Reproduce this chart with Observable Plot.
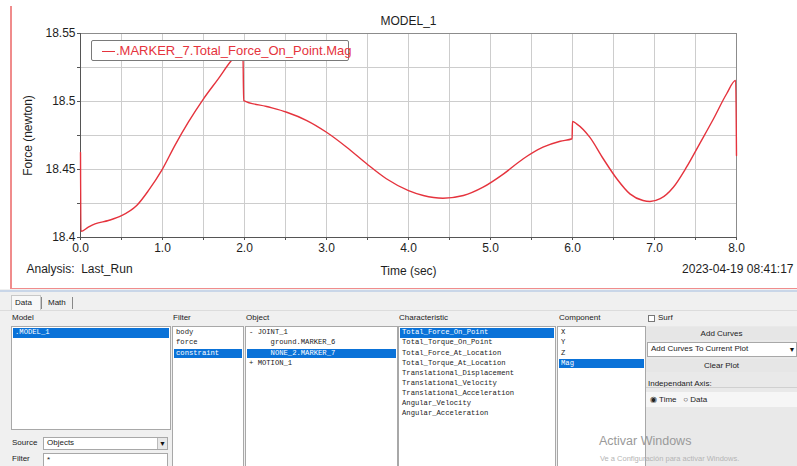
<!DOCTYPE html>
<html><head><meta charset="utf-8">
<script src="https://cdn.jsdelivr.net/npm/d3@7"></script>
<script src="https://cdn.jsdelivr.net/npm/@observablehq/plot@0.6"></script>
<style>
html,body{margin:0;padding:0;}
body{width:797px;height:466px;overflow:hidden;position:relative;background:#fff;font-family:"Liberation Sans",Arial,sans-serif;}
.abs{position:absolute;}
.layer{position:absolute;left:0;top:0;pointer-events:none;}
.lab{position:absolute;font:8px "Liberation Sans",Arial,sans-serif;color:#222;white-space:pre;line-height:10px;}
.box{position:absolute;background:#fff;border:1px solid #a8a8a8;box-sizing:border-box;overflow:hidden;}
.item{position:absolute;left:1px;right:1px;height:9.6px;font:7.2px "Liberation Mono","DejaVu Sans Mono",monospace;line-height:9.6px;color:#222;white-space:pre;padding-left:2px;}
.sel{background:#0a72d8;color:#fff;}
.btn{position:absolute;background:#e6e6e6;font:8px "Liberation Sans",Arial,sans-serif;color:#222;text-align:center;box-sizing:border-box;}
</style></head><body>
<div id="layerA" class="layer"></div>
<div id="layerB" class="layer"></div>
<div id="layerD" class="layer"></div>
<div id="layerC" class="layer"></div>
<div class="abs" style="left:10px;top:6px;width:1.5px;height:283px;background:#f08c8c;"></div>
<div class="abs" style="left:10px;top:287.5px;width:787px;height:1.5px;background:#f08c8c;"></div>
<div id="legend" class="abs" style="left:91px;top:40px;width:258px;height:21px;border:1px solid #7a7a7a;border-radius:2px;background:#fff;box-sizing:border-box;">
  <div class="abs" style="left:10px;top:9.5px;width:13px;height:1.5px;background:#e5333d;"></div>
  <div class="abs" style="left:24px;top:2px;font:13px 'Liberation Sans',Arial,sans-serif;color:#e5333d;white-space:nowrap;line-height:15px;">.MARKER_7.Total_Force_On_Point.Mag</div>
</div>
<div id="panel" class="abs" style="left:0;top:289px;width:797px;height:177px;background:#f0f0f0;"></div>
<script>
// ---- chart data ----
const times  = [0, 0.005, 0.095, 0.177, 0.34, 0.5, 0.685, 0.83, 0.99, 1.15, 1.315, 1.5, 1.68, 1.84, 1.92, 1.98, 1.99,
                2.27, 2.515, 2.76, 3.0, 3.246, 3.49, 3.73, 4.0, 4.18, 4.42, 4.67, 4.91, 5.16, 5.40, 5.64, 5.85, 5.995,
                6.0, 6.05, 6.21, 6.375, 6.54, 6.70, 6.86, 6.945, 7.07, 7.23, 7.39, 7.55, 7.72, 7.88, 7.99, 8.0];
const forces = [18.4625, 18.4045, 18.4076, 18.4100, 18.4125, 18.4160, 18.4235, 18.4346, 18.4493, 18.4676, 18.4848, 18.5020, 18.5167, 18.5301, 18.5355, 18.5392, 18.5007,
                18.4963, 18.4921, 18.4860, 18.4774, 18.4664, 18.4542, 18.4432, 18.4345, 18.4309, 18.4289, 18.4309, 18.4370, 18.4468, 18.4579, 18.4664, 18.4708, 18.4726,
                18.4853, 18.4836, 18.4738, 18.4579, 18.4432, 18.4321, 18.4272, 18.4265, 18.4285, 18.4370, 18.4517, 18.4689, 18.4873, 18.5057, 18.5155, 18.4603];
const xMajorTicks = [0, 1, 2, 3, 4, 5, 6, 7, 8];
const xMinorTicks = [0, 0.5, 1, 1.5, 2, 2.5, 3, 3.5, 4, 4.5, 5, 5.5, 6, 6.5, 7, 7.5, 8];
const yMajorTicks = [18.4, 18.45, 18.5, 18.55];
const yMinorTicks = [18.4, 18.425, 18.45, 18.475, 18.5, 18.525, 18.55];
const xDomain = [0, 8];
const yDomain = [18.4, 18.55];
const titleText = ["MODEL_1"];
const analysisText = ["Analysis:\u00a0 Last_Run"];
const dateText = ["2023-04-19 08:41:17"];

const rows = times.map((t, i) => ({t, f: forces[i]}));
const grid = "#cdcdcd";

// shared frame geometry for all stacked layers
const base = {
  width: 797, height: 288,
  marginLeft: 80, marginRight: 61, marginTop: 33, marginBottom: 51,
  axis: null,
  style: {fontFamily: "'Liberation Sans', Arial, sans-serif", fontSize: "12px", color: "#1e1e1e", background: "transparent", overflow: "visible"},
  x: {domain: xDomain, axis: null},
  y: {domain: yDomain, axis: null}
};

// layer A: tick labels, axis titles, captions
document.getElementById("layerA").append(Plot.plot({...base, marks: [
  Plot.axisX(xMajorTicks, {tickSize: 3, tickPadding: 3, tickFormat: d3.format(".1f"),
    label: "Time (sec)", labelAnchor: "center", labelOffset: 37, labelArrow: "none"}),
  Plot.axisY(yMajorTicks, {tickSize: 3, tickPadding: 2, tickFormat: d => String(+d.toFixed(3)),
    label: "Force (newton)", labelAnchor: "center", labelOffset: 57, labelArrow: "none"}),
  Plot.text(titleText, {text: d => d, frameAnchor: "top", dy: -17}),
  Plot.text(analysisText, {text: d => d, frameAnchor: "bottom-left", dx: -54, dy: 35, textAnchor: "start"}),
  Plot.text(dateText, {text: d => d, frameAnchor: "bottom-right", dx: 57, dy: 35, textAnchor: "end"})
]}));

// layer B: grid, frame, x ticks
document.getElementById("layerB").append(Plot.plot({...base, marks: [
  Plot.ruleX(xMinorTicks, {x: d => d, stroke: grid, strokeWidth: 1}),
  Plot.ruleY(yMinorTicks, {y: d => d, stroke: grid, strokeWidth: 1}),
  Plot.frame({stroke: "#8c8c8c"}),
  Plot.axisX(xMinorTicks, {tickSize: 3, tickFormat: () => "", label: null, stroke: "#555"})
]}));

// layer D: y ticks and dark axis lines
document.getElementById("layerD").append(Plot.plot({...base, marks: [
  Plot.axisY(yMinorTicks, {tickSize: 3, tickFormat: () => "", label: null, stroke: "#555"}),
  Plot.ruleX([xDomain[0]], {x: d => d, stroke: "#555"}),
  Plot.ruleY([yDomain[0]], {y: d => d, stroke: "#555"})
]}));

// layer C: the force curve
document.getElementById("layerC").append(Plot.plot({...base, marks: [
  Plot.line(rows, {x: "t", y: "f", stroke: "#e5333d", strokeWidth: 1.4, curve: "monotone-x"})
]}));

// ---- bottom data-browser panel (static UI) ----
const body = document.body;
function el(cls, style, text) {
  const d = document.createElement("div");
  d.className = cls; d.setAttribute("style", style);
  if (text !== undefined) d.textContent = text;
  body.appendChild(d); return d;
}
function list(x, y, w, h, items, sel) {
  const b = el("box", `left:${x}px;top:${y}px;width:${w}px;height:${h}px;`);
  items.forEach((t, i) => {
    const it = document.createElement("div");
    it.className = "item" + (i === sel ? " sel" : "");
    it.style.top = (1.3 + 10.1 * i) + "px";
    it.textContent = t;
    b.appendChild(it);
  });
  return b;
}
el("abs", "left:0;top:290px;width:797px;height:1.5px;background:#c9d6e8;");
el("abs", "left:11px;top:295px;width:30px;height:15px;background:#f8f8f8;border:1px solid #c8c8c8;border-bottom:none;box-sizing:border-box;");
el("lab", "left:15px;top:298px;", "Data");
el("abs", "left:41px;top:297px;width:1px;height:12px;background:#888;");
el("lab", "left:48px;top:298px;", "Math");
el("abs", "left:72px;top:297px;width:1px;height:12px;background:#888;");
el("abs", "left:0;top:310px;width:797px;height:1px;background:#dcdcdc;");

el("lab", "left:12px;top:313px;", "Model");
el("lab", "left:173px;top:313px;", "Filter");
el("lab", "left:246px;top:313px;", "Object");
el("lab", "left:399px;top:313px;", "Characteristic");
el("lab", "left:559px;top:313px;", "Component");

list(11, 326, 160, 104, [".MODEL_1"], 0);
list(172, 326, 72, 145, ["body", "force", "constraint"], 2);
list(245, 326, 153, 145, ["- JOINT_1", "     ground.MARKER_6", "     NONE_2.MARKER_7", "+ MOTION_1"], 2);
list(398, 326, 158, 145, ["Total_Force_On_Point", "Total_Torque_On_Point", "Total_Force_At_Location",
  "Total_Torque_At_Location", "Translational_Displacement", "Translational_Velocity",
  "Translational_Acceleration", "Angular_Velocity", "Angular_Acceleration"], 0);
list(557, 326, 89, 145, ["X", "Y", "Z", "Mag"], 3);

el("lab", "left:12px;top:438px;", "Source");
el("box", "left:43px;top:437px;width:125px;height:13px;");
el("lab", "left:47px;top:438px;", "Objects");
el("abs", "left:157px;top:438px;width:10px;height:11px;background:#e8e8e8;border-left:1px solid #bbb;box-sizing:border-box;font:7px sans-serif;text-align:center;line-height:11px;color:#111;").textContent = "▼";
el("lab", "left:12px;top:454px;", "Filter");
el("box", "left:43px;top:453px;width:125px;height:15px;");
el("lab", "left:47px;top:455px;", "*");

el("abs", "left:646px;top:326px;width:151px;height:140px;background:#e9e9e9;");
el("abs", "left:648px;top:314.5px;width:7px;height:7px;border:1px solid #777;background:#fff;box-sizing:border-box;");
el("lab", "left:658px;top:313px;", "Surf");
el("btn", "left:646px;top:327px;width:151px;height:13px;line-height:13px;", "Add Curves");
el("box", "left:647px;top:342px;width:150px;height:15px;");
el("lab", "left:651px;top:344px;", "Add Curves To Current Plot");
el("abs", "left:787px;top:343px;width:10px;height:13px;font:7px sans-serif;text-align:center;line-height:13px;color:#111;").textContent = "▼";
el("btn", "left:646px;top:359px;width:151px;height:13px;line-height:13px;", "Clear Plot");
el("lab", "left:648px;top:379px;", "Independant Axis:");
el("abs", "left:646px;top:387px;width:151px;height:1px;background:#d0d0d0;");
el("abs", "left:646px;top:392px;width:151px;height:15px;background:#f6f6f6;");
el("lab", "left:650px;top:394.5px;", "◉ Time   ○ Data");

el("abs", "left:599px;top:434px;font:12.5px 'Liberation Sans',Arial,sans-serif;color:#9a9a9a;white-space:nowrap;", "Activar Windows");
el("abs", "left:600px;top:454px;font:7.5px 'Liberation Sans',Arial,sans-serif;color:#b5b5b5;white-space:nowrap;", "Ve a Configuración para activar Windows.");
</script>
</body></html>
